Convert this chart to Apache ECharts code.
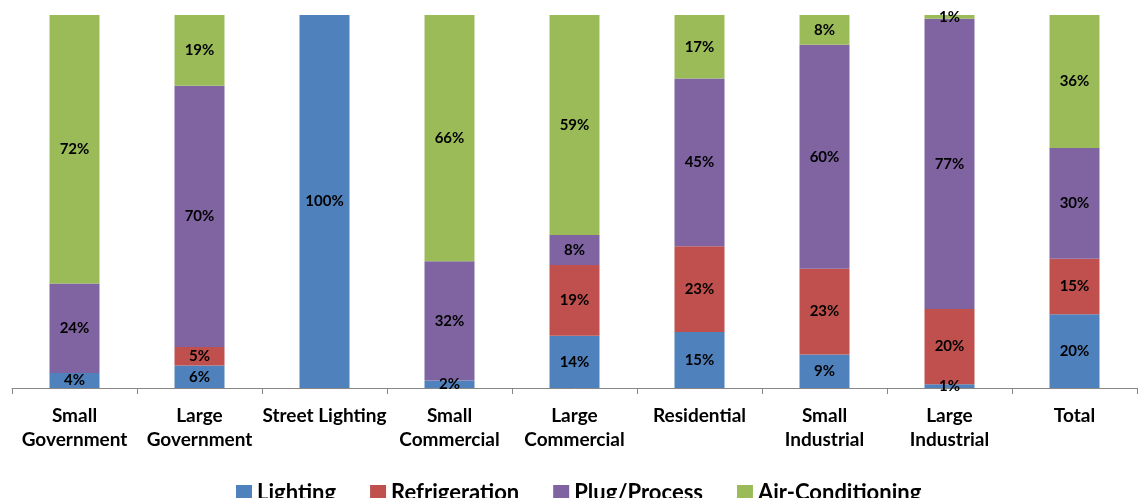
<!DOCTYPE html>
<html>
<head>
<meta charset="utf-8">
<script src="https://cdn.jsdelivr.net/npm/echarts@6/dist/echarts.min.js"></script>
<style>
  html, body { margin: 0; padding: 0; background: #fff; }
  #chart { width: 1139px; height: 498px; }
</style>
</head>
<body>
<div id="chart"></div>
<script>
// End-use shares (%) by customer class
const categories = ['Small\nGovernment', 'Large\nGovernment', 'Street Lighting', 'Small\nCommercial',
  'Large\nCommercial', 'Residential', 'Small\nIndustrial', 'Large\nIndustrial', 'Total'];
const lighting        = [4, 6, 100, 2, 14, 15, 9, 1, 20];
const refrigeration   = [0, 5, 0, 0, 19, 23, 23, 20, 15];
const plugProcess     = [24, 70, 0, 32, 8, 45, 60, 77, 30];
const airConditioning = [72, 19, 0, 66, 59, 17, 8, 1, 36];
const seriesNames = ['Lighting', 'Refrigeration', 'Plug/Process', 'Air-Conditioning'];
const seriesColors = ['#4F81BD', '#C0504D', '#8064A2', '#9BBB59'];

const seriesValues = [lighting, refrigeration, plugProcess, airConditioning];

// 100% stacked: each column is scaled to its own total
const totals = categories.map((_, i) => seriesValues.reduce((s, arr) => s + arr[i], 0));

const FONT = 'Lato, "Open Sans", sans-serif';

const series = seriesValues.map((vals, k) => ({
  name: seriesNames[k],
  type: 'bar',
  stack: 'share',
  barWidth: 50,
  itemStyle: { color: seriesColors[k] },
  label: {
    show: true,
    position: 'inside',
    color: '#000',
    fontFamily: FONT,
    fontWeight: 'bold',
    fontSize: 15,
    formatter: p => vals[p.dataIndex] > 0 ? vals[p.dataIndex] + '%' : ''
  },
  emphasis: { disabled: true },
  data: vals.map((v, i) => v / totals[i] * 100)
}));

const chart = echarts.init(document.getElementById('chart'), null, { renderer: 'canvas' });
chart.setOption({
  animation: false,
  grid: { left: 12, right: 2, top: 15, bottom: 110, containLabel: false },
  legend: {
    data: seriesNames,
    left: 231,
    top: 477,
    icon: 'rect',
    itemWidth: 16,
    itemHeight: 16,
    itemGap: 34,
    textStyle: { fontFamily: FONT, fontWeight: 'bold', fontSize: 22, color: '#000' }
  },
  xAxis: {
    type: 'category',
    data: categories,
    axisLine: { lineStyle: { color: '#868686', width: 1 } },
    axisTick: { show: true, length: 6, alignWithLabel: false, lineStyle: { color: '#868686' } },
    axisLabel: {
      interval: 0,
      margin: 16,
      color: '#000',
      fontFamily: FONT,
      fontWeight: 'bold',
      fontSize: 19,
      lineHeight: 24
    }
  },
  yAxis: {
    type: 'value',
    min: 0,
    max: 100,
    show: false,
    splitLine: { show: false }
  },
  series: series
});
</script>
</body>
</html>
